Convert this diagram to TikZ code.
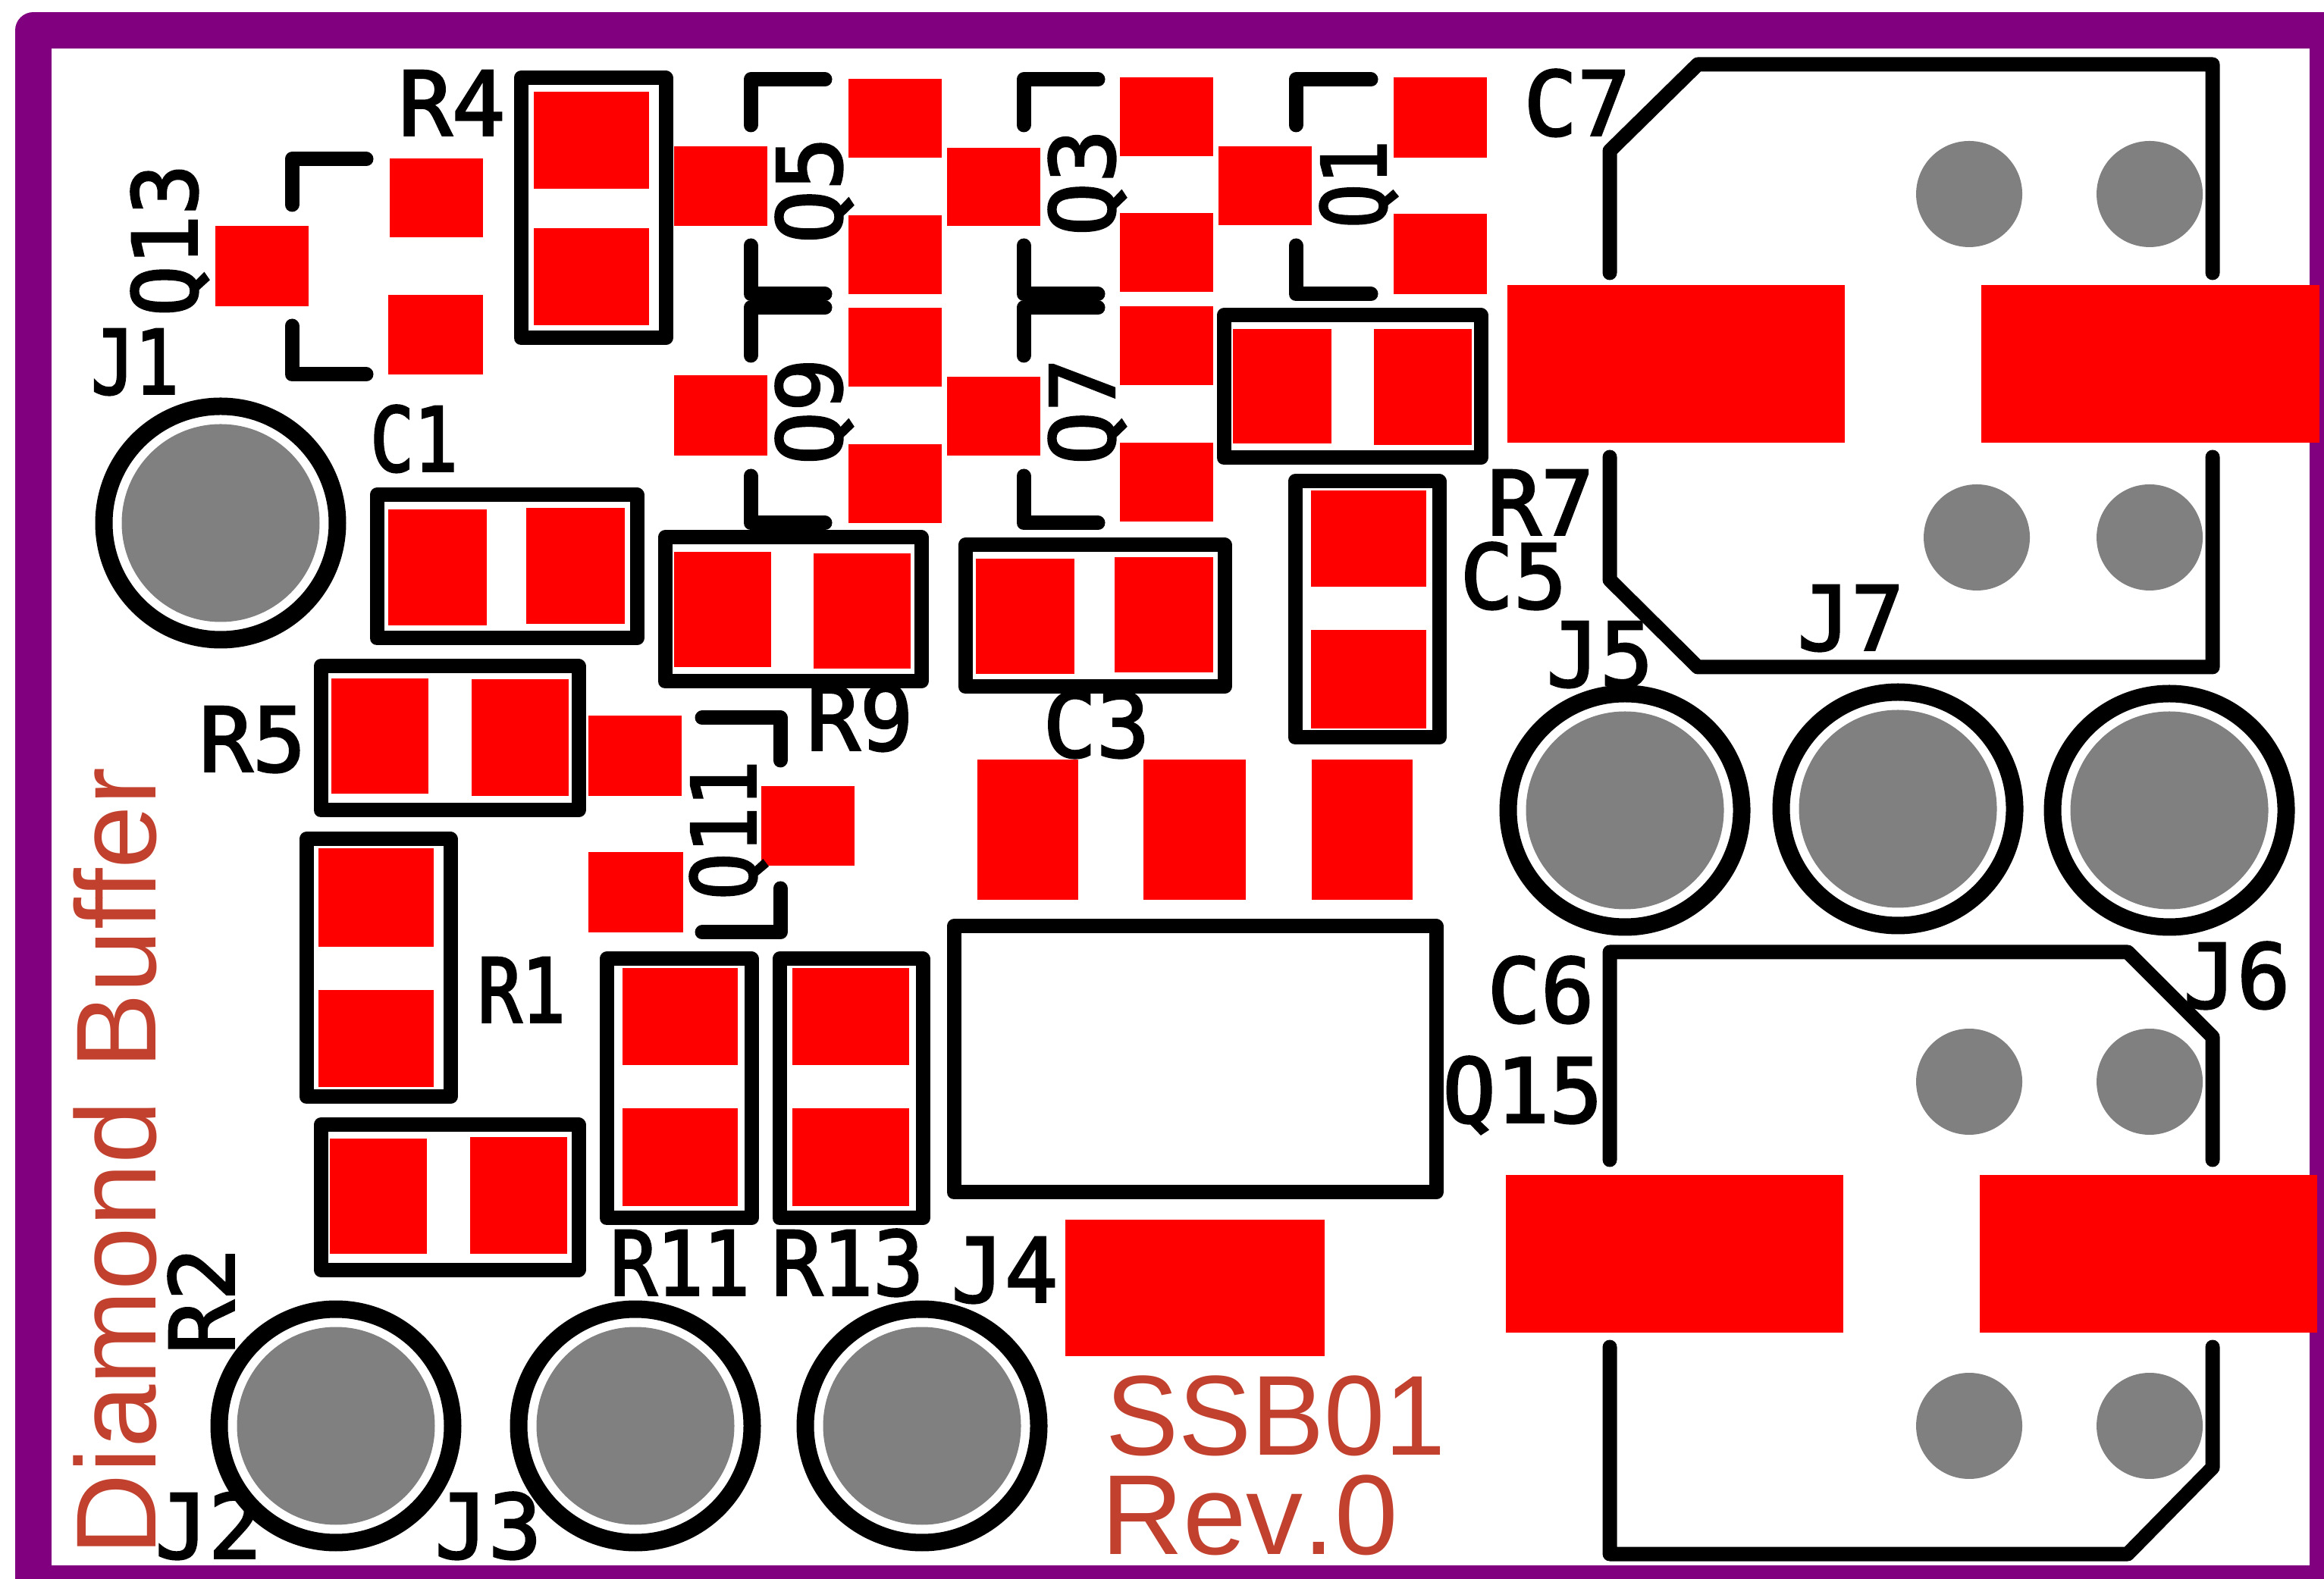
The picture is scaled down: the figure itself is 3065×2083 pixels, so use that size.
\documentclass[tikz,border=0pt]{standalone}
\usepackage{fontspec}
\setmainfont{Liberation Sans}
\newfontfamily\silkfont[FakeBold=2.5]{DejaVu Sans Mono}
\newfontfamily\silkslim[FakeBold=2.5,FakeStretch=0.82]{DejaVu Sans Mono}
\newfontfamily\silkmid[FakeBold=2.5,FakeStretch=0.87]{DejaVu Sans Mono}
\newfontfamily\silktrim[FakeBold=2.5,FakeStretch=0.95]{DejaVu Sans Mono}
\newfontfamily\partfont[FakeStretch=0.96]{Liberation Sans}
\newfontfamily\revfont[Kerning=Off]{Liberation Sans}
\definecolor{boardedge}{RGB}{128,0,128}
\definecolor{padred}{RGB}{255,0,0}
\definecolor{holegrey}{RGB}{128,128,128}
\definecolor{marktext}{RGB}{194,64,46}
\tikzset{
  outlineedge/.style={draw=boardedge,line width=4.8pt,line join=round},
  silk/.style={draw=black,line width=1.9pt,line cap=round,line join=round},
  ringline/.style={draw=black,line width=2.3pt},
  holefill/.style={fill=holegrey},
  padrect/.style={fill=padred},
  lab/.style={inner sep=0pt,outer sep=0pt,text height=8.5pt,text depth=0pt,font=\silkfont\fontsize{11.7}{12}\selectfont},
  labslim/.style={lab,font=\silkslim\fontsize{11.7}{12}\selectfont},
  labmid/.style={lab,font=\silkmid\fontsize{11.7}{12}\selectfont},
  labtrim/.style={lab,font=\silktrim\fontsize{11.7}{12}\selectfont},
  vlab/.style={lab,rotate=90},
  boardmark/.style={inner sep=0pt,outer sep=0pt,text=marktext,font=\fontsize{15}{16}\selectfont,anchor=base west}
}
\newcommand{\padat}[4]{\fill[padrect] (#1,#2) rectangle (#3,#4);}
\newcommand{\silkbox}[4]{\draw[silk] (#1,#2) rectangle (#3,#4);}
\newcommand{\bigvia}[2]{\fill[holefill] (#1,#2) circle[radius=13.05pt]; \draw[ringline] (#1,#2) circle[radius=15.4pt];}
\newcommand{\smallvia}[2]{\fill[holefill] (#1,#2) circle[radius=7pt];}
\begin{document}
\begin{tikzpicture}[x=0.1pt,y=-0.1pt]
\useasboundingbox (0,0) rectangle (3065,2083);
\clip (0,0) rectangle (3065,2083);
\fill[white] (0,0) rectangle (3065,2083);
\draw[outlineedge] (44,40) rectangle (3070,2089);
% pads: Q13
\padat{284}{298}{407}{404}\padat{514}{209}{637}{313}\padat{512}{389}{637}{494}
% R4
\padat{704}{121}{856}{249}\padat{704}{301}{856}{429}
% Q5 Q9
\padat{889}{193}{1012}{298}\padat{1119}{104}{1242}{208}\padat{1119}{284}{1242}{388}
\padat{889}{495}{1012}{601}\padat{1119}{406}{1242}{510}\padat{1119}{586}{1242}{690}
% Q3 Q7
\padat{1249}{195}{1372}{298}\padat{1477}{102}{1600}{206}\padat{1477}{281}{1600}{385}
\padat{1249}{497}{1372}{601}\padat{1477}{404}{1600}{508}\padat{1477}{584}{1600}{688}
% Q1
\padat{1607}{193}{1730}{297}\padat{1838}{102}{1961}{208}\padat{1838}{282}{1961}{388}
% R7 C5
\padat{1626}{434}{1756}{585}\padat{1812}{434}{1941}{587}
\padat{1729}{647}{1881}{774}\padat{1729}{831}{1881}{961}
% C1 R9 C3
\padat{512}{672}{642}{825}\padat{694}{670}{824}{823}
\padat{889}{728}{1017}{880}\padat{1073}{730}{1201}{882}
\padat{1287}{737}{1417}{889}\padat{1470}{735}{1600}{887}
% R5 Q11
\padat{437}{895}{565}{1047}\padat{622}{896}{750}{1050}
\padat{776}{944}{899}{1050}\padat{776}{1124}{901}{1230}\padat{1004}{1037}{1127}{1142}
% R1 R2 R11 R13
\padat{420}{1119}{572}{1249}\padat{420}{1306}{572}{1434}
\padat{435}{1502}{563}{1654}\padat{620}{1500}{748}{1654}
\padat{821}{1277}{973}{1405}\padat{821}{1462}{973}{1591}
\padat{1045}{1277}{1199}{1405}\padat{1045}{1462}{1199}{1591}
% Q15
\padat{1289}{1002}{1422}{1187}\padat{1508}{1002}{1643}{1187}\padat{1730}{1002}{1863}{1187}\padat{1405}{1609}{1747}{1789}
% wide pads
\padat{1988}{376}{2433}{584}\padat{2613}{376}{3059}{584}
\padat{1986}{1550}{2431}{1758}\padat{2611}{1550}{3056}{1758}
% holes
\bigvia{291}{690}\bigvia{443}{1881}\bigvia{838}{1881}\bigvia{1216}{1881}
\bigvia{2143}{1069}\bigvia{2503}{1067}\bigvia{2861}{1069}
\smallvia{2597}{256}\smallvia{2835}{256}\smallvia{2607}{709}\smallvia{2835}{709}
\smallvia{2597}{1427}\smallvia{2835}{1427}\smallvia{2597}{1881}\smallvia{2835}{1881}
% silk corners
\draw[silk] (385,270)--(385,210)--(483,210);
\draw[silk] (385,430)--(385,494)--(483,494);
\draw[silk] (990,165)--(990,105)--(1088,105);
\draw[silk] (990,324)--(990,388)--(1088,388);
\draw[silk] (990,469)--(990,406)--(1088,406);
\draw[silk] (990,628)--(990,690)--(1088,690);
\draw[silk] (1350,165)--(1350,105)--(1448,105);
\draw[silk] (1350,324)--(1350,388)--(1448,388);
\draw[silk] (1350,469)--(1350,406)--(1448,406);
\draw[silk] (1350,628)--(1350,690)--(1448,690);
\draw[silk] (1709,165)--(1709,105)--(1808,105);
\draw[silk] (1709,324)--(1709,388)--(1808,388);
\draw[silk] (926,947)--(1029,947)--(1029,1003);
\draw[silk] (926,1230)--(1029,1230)--(1029,1172);
% silk boxes
\silkbox{687}{103}{878}{446}
\silkbox{1614}{416}{1953}{604}
\silkbox{1708}{635}{1898}{973}
\silkbox{497}{653}{840}{842}
\silkbox{877}{709}{1215}{899}
\silkbox{1273}{719}{1615}{906}
\silkbox{423}{879}{763}{1069}
\silkbox{404}{1107}{594}{1447}
\silkbox{423}{1484}{763}{1675}
\silkbox{800}{1265}{991}{1607}
\silkbox{1028}{1265}{1217}{1607}
\silkbox{1258}{1222}{1894}{1573}
% connectors outlines
\draw[silk] (2123,360)--(2123,199)--(2239,85)--(2918,85)--(2918,360);
\draw[silk] (2123,603)--(2123,765)--(2239,880)--(2918,880)--(2918,603);
\draw[silk] (2123,1530)--(2123,1256)--(2806,1256)--(2918,1368)--(2918,1530);
\draw[silk] (2123,1777)--(2123,2050)--(2806,2050)--(2918,1936)--(2918,1777);
% labels
\node[lab] (lR4) at (596,136) {R4};
\node[labtrim,rotate=90] (lQ13) at (217,317) {Q13};
\node[labslim] (lJ1) at (178,477) {J1};
\node[labslim] (lC1) at (546,579) {C1};
\node[vlab] (lQ5) at (1067,251) {Q5};
\node[vlab] (lQ9) at (1067,543) {Q9};
\node[vlab] (lQ3) at (1427,241) {Q3};
\node[vlab] (lQ7) at (1427,543) {Q7};
\node[labslim,rotate=90] (lQ1) at (1785,243) {Q1};
\node[lab] (lC7) at (2080,136) {C7};
\node[lab] (lR7) at (2032,663) {R7};
\node[lab] (lC5) at (1996,760) {C5};
\node[lab] (lJ5) at (2110,863) {J5};
\node[lab] (lJ7) at (2441,815) {J7};
\node[lab] (lR9) at (1134,947) {R9};
\node[lab] (lC3) at (1446,956) {C3};
\node[lab] (lR5) at (333,975) {R5};
\node[labmid,rotate=90] (lQ11) at (954,1095) {Q11};
\node[labslim] (lR1) at (688,1306) {R1};
\node[vlab] (lR2) at (266,1716) {R2};
\node[labmid] (lR11) at (897,1666) {R11};
\node[labtrim] (lR13) at (1118,1666) {R13};
\node[lab] (lJ4) at (1325,1675) {J4};
\node[lab] (lC6) at (2032,1306) {C6};
\node[lab] (lQ15) at (2008,1438) {Q15};
\node[lab] (lJ6) at (2950,1287) {J6};
\node[lab] (lJ2) at (275,2013) {J2};
\node[lab] (lJ3) at (644,2013) {J3};
% board markings
\node[boardmark,rotate=90] (title) at (205,2052) {Diamond Buffer};
\node[boardmark,font=\partfont\fontsize{15}{16}\selectfont] (part) at (1458,1919) {SSB01};
\node[boardmark,font=\revfont\fontsize{15}{16}\selectfont] (rev) at (1452,2050) {Rev.0};
\end{tikzpicture}
\end{document}
